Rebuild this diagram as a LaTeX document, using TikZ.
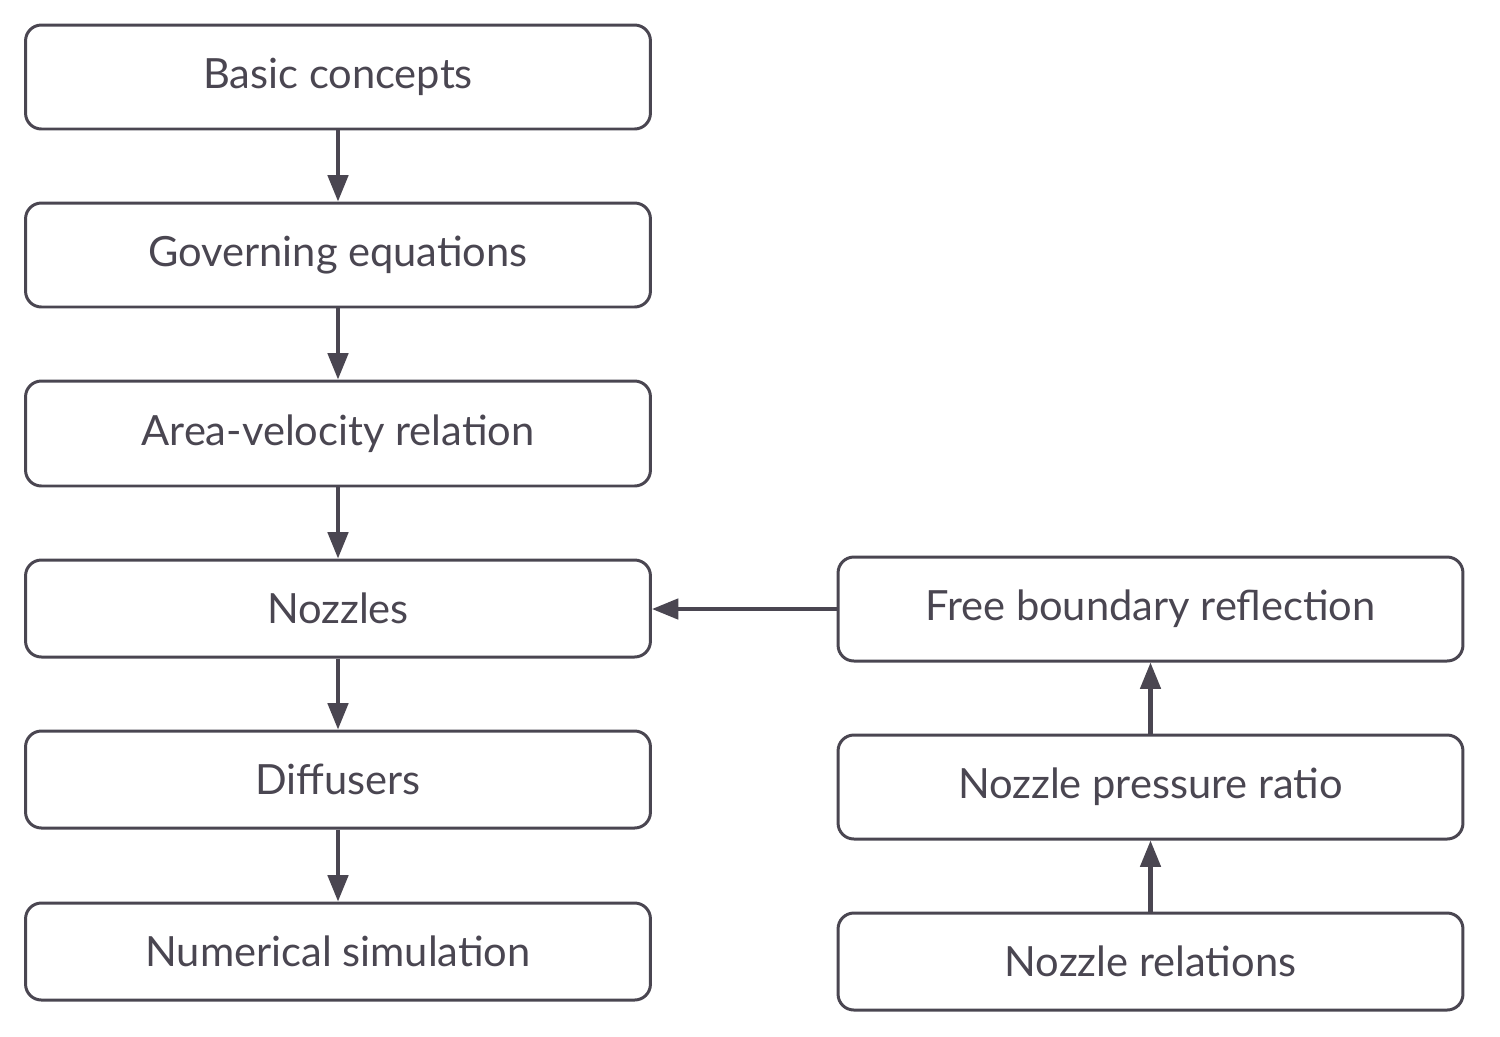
\documentclass[tikz,border=0pt]{standalone}
\usepackage{fontspec}
\setmainfont{Lato}
\usetikzlibrary{arrows.meta}
\definecolor{boxln}{HTML}{4A4651}

\begin{document}
\begin{tikzpicture}[x=0.02cm,y=-0.02cm,
    topic/.style={draw=boxln,line width=1.7pt,rounded corners=9pt,
      minimum width=12.5cm,text=boxln,font=\fontsize{23.7}{28}\selectfont},
    link/.style={draw=boxln,line width=2.3pt,
      -{Triangle[length=15pt,width=11.5pt]}}]
    % Page
    \useasboundingbox (0,0) rectangle (1500,1036);
    % Left column
    \node[topic,minimum height=2.08cm] (basic) at (338,77) {Basic concepts};
    \node[topic,minimum height=2.08cm] (gov) at (338,255) {Governing equations};
    \node[topic,minimum height=2.1cm] (area) at (338,433.5) {Area-velocity relation};
    \node[topic,minimum height=1.94cm] (nozz) at (338,608.5) {Nozzles};
    \node[topic,minimum height=1.94cm] (diff) at (338,779.5) {Diffusers};
    \node[topic,minimum height=1.94cm] (num) at (338,951.5) {Numerical simulation};
    % Right column
    \node[topic,minimum height=2.08cm] (free) at (1150.5,609) {Free boundary reflection};
    \node[topic,minimum height=2.08cm] (npr) at (1150.5,787) {Nozzle pressure ratio};
    \node[topic,minimum height=1.94cm] (rel) at (1150.5,961.5) {Nozzle relations};
    % Links
    \draw[link] (basic) -- (gov);
    \draw[link] (gov) -- (area);
    \draw[link] (area) -- (nozz);
    \draw[link] (nozz) -- (diff);
    \draw[link] (diff) -- (num);
    \draw[link] (rel) -- (npr);
    \draw[link] (npr) -- (free);
    \draw[link] (free.west) -- (free.west -| nozz.east);
\end{tikzpicture}
\end{document}
